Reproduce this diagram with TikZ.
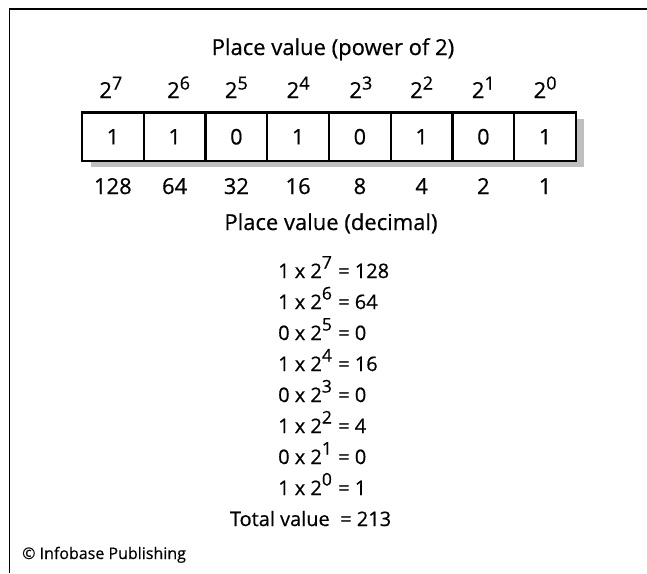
\documentclass[tikz,border=0pt]{standalone}
\usepackage{fontspec}
\setmainfont{Open Sans}[FakeBold=0.5]
\newcommand\pwr[1]{2\raisebox{8.5pt}{\scalebox{0.82}{#1}}}
\newcommand\pwe[1]{2\raisebox{9.5pt}{\scalebox{0.87}{#1}}}
\begin{document}
\begin{tikzpicture}[x=1pt,y=-1pt,
  frame/.style={line width=1.5pt},
  cell/.style={draw,line width=2.2pt,minimum width=61.75pt,minimum height=48.5pt,inner sep=0pt,font=\fontsize{21.5}{25}\selectfont},
  powlbl/.style={anchor=base,inner sep=0pt,font=\fontsize{22}{26}\selectfont},
  declbl/.style={anchor=base,inner sep=0pt,font=\fontsize{22}{26}\selectfont},
  caption/.style={anchor=base,inner sep=0pt,font=\fontsize{22}{26}\selectfont},
  eqleft/.style={anchor=base west,inner sep=0pt,font=\fontsize{20}{24}\selectfont},
  eqright/.style={anchor=base west,inner sep=0pt,font=\fontsize{20}{24}\selectfont},
  credit/.style={anchor=base west,inner sep=0pt,font=\fontsize{16}{19}\selectfont}]
\useasboundingbox (0,0) rectangle (647,573);
\fill[white] (0,0) rectangle (647,573);
\draw[frame] (9.5,573) -- (9.5,9) -- (647,9);
\node[caption] (title) at (333,55) {Place value (power of 2)};
% shadow
\fill[black!25] (91,119) rectangle (584,167);
% cells
\foreach \i/\b in {0/1,1/1,2/0,3/1,4/0,5/1,6/0,7/1}{
  \node[cell,fill=white] (c\i) at ({82+61.75*\i+30.875},136.75) {\b};
}
% powers
\foreach \i/\p/\dx in {0/7/-2,1/6/4,2/5/0,3/4/0,4/3/1,5/2/0,6/1/0,7/0/0}{
  \node[powlbl] (p\i) at ({82+61.75*\i+30.875+\dx},98) {\pwr{\p}};
}
% decimal values
\foreach \i/\d in {0/128,1/64,2/32,3/16,4/8,5/4,6/2,7/1}{
  \node[declbl] (d\i) at ({82+61.75*\i+30.875},194) {\d};
}
\node[caption] (dectitle) at (331,230) {Place value (decimal)};
% equations
\foreach \k/\b/\p/\v in {0/1/7/128,1/1/6/64,2/0/5/0,3/1/4/16,4/0/3/0,5/1/2/4,6/0/1/0,7/1/0/1}{
  \node[eqleft] (el\k) at (278,{278+31*\k}) {\b\ x \pwe{\p}};
  \node[eqright] (er\k) at (338,{278+31*\k}) {= \v};
}
\node[eqleft,anchor=base east] (tl) at (330,526) {Total value};
\node[eqright] (tr) at (340,526) {= 213};
\node[credit] (cr) at (22,559) {© Infobase Publishing};
\end{tikzpicture}
\end{document}
